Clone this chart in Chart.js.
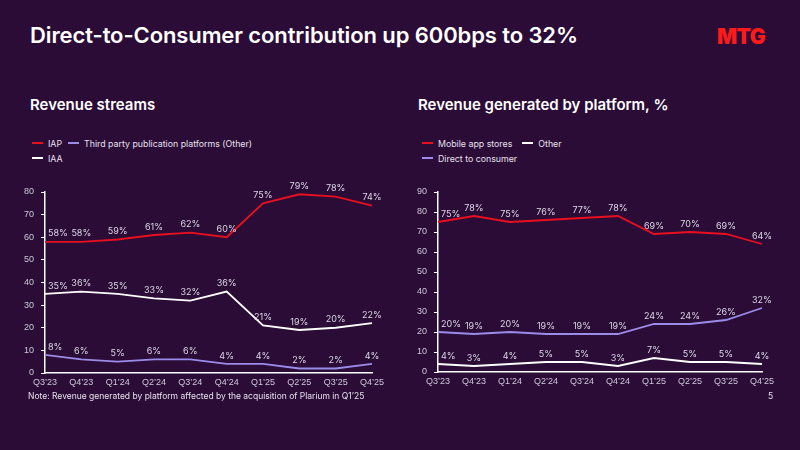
<!DOCTYPE html>
<html>
<head>
<meta charset="utf-8">
<script src="https://cdn.jsdelivr.net/npm/chart.js@4.4.1/dist/chart.umd.min.js"></script>
<style>
  body { margin: 0; width: 800px; height: 450px; background: #2b0c37; font-family: Inter, "Liberation Sans", sans-serif; color: #fff; overflow: hidden; position: relative; }
  .title { position: absolute; left: 30px; top: 22px; font-size: 22px; font-weight: 600; letter-spacing: -0.1px; }
  .logo { position: absolute; left: 717px; top: 24px; font-size: 21px; font-weight: 900; color: #ff1a1a; letter-spacing: -0.5px; }
  .sub { position: absolute; top: 95px; font-size: 15px; font-weight: 600; }
  .legend { position: absolute; top: 137px; display: flex; flex-wrap: wrap; row-gap: 3px; font-size: 8.8px; color: #e6e0ec; }
  .legend span { display: flex; align-items: center; height: 12px; }
  .legend i { display: inline-block; width: 11px; height: 2px; margin-right: 5px; }
  canvas { position: absolute; top: 170px; }
  .note { position: absolute; left: 28px; top: 391px; font-size: 8.5px; color: #e6e0ec; }
  .page { position: absolute; left: 768px; top: 391px; font-size: 8.5px; color: #e6e0ec; }
</style>
</head>
<body>
<div class="title">Direct-to-Consumer contribution up 600bps to 32%</div>
<div class="logo">MTG</div>
<div class="sub" style="left:30px">Revenue streams</div>
<div class="sub" style="left:418px">Revenue generated by platform, %</div>
<div class="legend" id="legL" style="left:32px; width:230px; column-gap:6px"></div>
<div class="legend" id="legR" style="left:422px; width:150px; column-gap:10px"></div>
<canvas id="chartL" width="400" height="230" style="left:0"></canvas>
<canvas id="chartR" width="400" height="230" style="left:400px"></canvas>
<div class="note">Note: Revenue generated by platform affected by the acquisition of Plarium in Q1’25</div>
<div class="page">5</div>
<script>
// quarters
const quarters = ['Q3’23', 'Q4’23', 'Q1’24', 'Q2’24', 'Q3’24', 'Q4’24', 'Q1’25', 'Q2’25', 'Q3’25', 'Q4’25'];

// revenue streams, %
const iap = [58, 58, 59, 61, 62, 60, 75, 79, 78, 74];
const thirdParty = [8, 6, 5, 6, 6, 4, 4, 2, 2, 4];
const iaa = [35, 36, 35, 33, 32, 36, 21, 19, 20, 22];

// revenue by platform, %
const appStores = [75, 78, 75, 76, 77, 78, 69, 70, 69, 64];
const otherPlatform = [4, 3, 4, 5, 5, 3, 7, 5, 5, 4];
const directToConsumer = [20, 19, 20, 19, 19, 19, 24, 24, 26, 32];

const RED = '#e8101e';
const LAVENDER = '#9a8ce8';
const WHITE = '#ffffff';
const TICK = '#cfc6da';

// draws the % value above each point
const pointLabels = {
  id: 'pointLabels',
  afterDatasetsDraw(chart) {
    const ctx = chart.ctx;
    ctx.save();
    ctx.font = '9px Inter, "Liberation Sans", sans-serif';
    ctx.fillStyle = '#ddd6e6';
    ctx.textBaseline = 'middle';
    chart.data.datasets.forEach((ds, i) => {
      chart.getDatasetMeta(i).data.forEach((pt, j) => {
        ctx.textAlign = j === 0 ? 'left' : 'center';
        ctx.fillText(ds.data[j] + '%', j === 0 ? pt.x + 3 : pt.x, pt.y - 8);
      });
    });
    ctx.restore();
  }
};

function makeChart(id, datasets, yMax, yWidth, rightPad, bottomPad) {
  return new Chart(document.getElementById(id), {
    type: 'line',
    data: { labels: quarters, datasets: datasets },
    options: {
      responsive: false,
      animation: false,
      layout: { padding: { top: 22, right: rightPad, left: 0, bottom: bottomPad } },
      elements: {
        point: { radius: 0 },
        line: { borderWidth: 1.8, tension: 0 }
      },
      plugins: { legend: { display: false }, tooltip: { enabled: false } },
      scales: {
        x: {
          grid: { display: false, drawTicks: false },
          border: { display: true, color: WHITE, width: 1.5 },
          ticks: { color: TICK, font: { size: 9 }, padding: 4, maxRotation: 0, autoSkip: false },
          afterFit: s => { s.height = 22; }
        },
        y: {
          min: 0,
          max: yMax,
          grid: { drawOnChartArea: false, color: WHITE, tickLength: 4 },
          border: { display: true, color: WHITE, width: 1.5 },
          ticks: { stepSize: 10, color: TICK, font: { size: 9 }, padding: 7 },
          afterFit: s => { s.width = yWidth; }
        }
      }
    },
    plugins: [pointLabels]
  });
}

function makeLegend(id, datasets) {
  const el = document.getElementById(id);
  datasets.forEach(ds => {
    const item = document.createElement('span');
    item.innerHTML = '<i style="background:' + ds.borderColor + '"></i>' + ds.label;
    el.appendChild(item);
  });
}

const leftSets = [
  { label: 'IAP', data: iap, borderColor: RED },
  { label: 'Third party publication platforms (Other)', data: thirdParty, borderColor: LAVENDER },
  { label: 'IAA', data: iaa, borderColor: WHITE }
];
const rightSets = [
  { label: 'Mobile app stores', data: appStores, borderColor: RED },
  { label: 'Other', data: otherPlatform, borderColor: WHITE },
  { label: 'Direct to consumer', data: directToConsumer, borderColor: LAVENDER }
];

makeChart('chartL', leftSets, 80, 45, 28, 5);
makeChart('chartR', rightSets, 90, 38, 38, 6);
makeLegend('legL', leftSets);
makeLegend('legR', rightSets);
</script>
</body>
</html>
